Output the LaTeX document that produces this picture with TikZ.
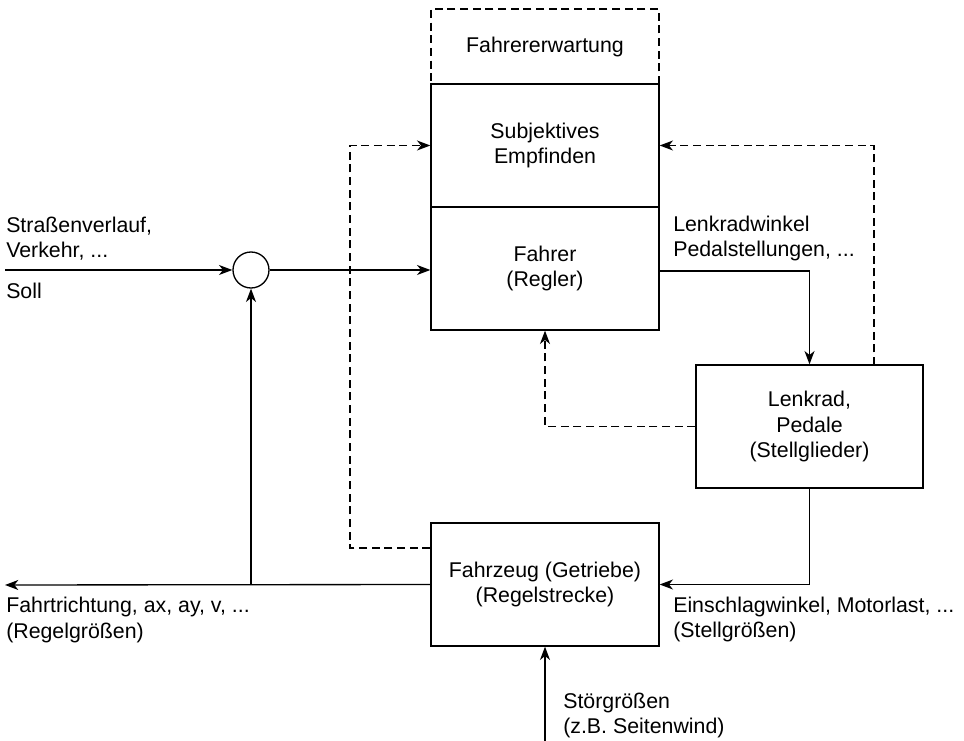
\documentclass[tikz,border=0pt]{standalone}
\usepackage{fontspec}
\setmainfont{Liberation Sans}
\usetikzlibrary{arrows.meta, positioning}

\begin{document}
\begin{tikzpicture}[x=0.75pt, y=-0.75pt,
    every node/.style={font=\fontsize{16}{18.8}\selectfont},
    block/.style={draw, line width=1pt, inner sep=0pt, minimum width=171pt, minimum height=92.25pt, align=center},
    lbl/.style={anchor=west, align=left, inner sep=0pt},
    arr/.style={line width=1pt, -{Stealth[length=10pt, width=7.5pt, inset=3pt]}},
    fb/.style={line width=1pt, dash pattern=on 6pt off 3.5pt},
    fbarr/.style={fb, -{Stealth[length=10pt, width=7.5pt, inset=3pt]}}]

    \useasboundingbox (0,0) rectangle (964,741);

    % Fahrer mit Erwartung und Empfinden
    \node[block, fb, minimum height=56.25pt] (erw) at (545,46.5) {Fahrererwartung};
    \node[block] (empf) at (545,145.5) {Subjektives\\Empfinden};
    \node[block] (fahrer) at (545,268.5) {Fahrer\\(Regler)};

    \node[draw, circle, line width=1pt, minimum size=27pt, inner sep=0pt] (sum) at (251,270) {};

    \node[block, minimum width=170.25pt] (lenkrad) at (809.5,426.5) {Lenkrad,\\Pedale\\(Stellglieder)};

    \node[block] (fzg) at (545,584.5) {Fahrzeug (Getriebe)\\(Regelstrecke)};

    % Beschriftungen
    \node[lbl] (strasse) at (6,238.5) {Straßenverlauf,\\Verkehr, ...};
    \node[lbl] (soll) at (6,291) {Soll};
    \node[lbl] (lenkw) at (673,238.5) {Lenkradwinkel\\Pedalstellungen, ...};
    \node[lbl] (regelgr) at (6,620) {Fahrtrichtung, ax, ay, v, ...\\(Regelgrößen)};
    \node[lbl] (stellgr) at (673,619.5) {Einschlagwinkel, Motorlast, ...\\(Stellgrößen)};
    \node[lbl] (stoer) at (563,715.5) {Störgrößen\\(z.B. Seitenwind)};

    % Hilfspunkte
    \coordinate (soll-in) at (5,270);
    \coordinate (ist-out) at (5,585);
    \coordinate (abzweig) at (251,585);
    \coordinate (stoer-in) at (545,741);
    \coordinate (fb-l) at (350,548);
    \coordinate (fb-r) at (874,365);

    % Regelkreis
    \draw[arr] (soll-in) -- (sum.west);
    \draw[arr] (sum.east) -- (sum.east -| fahrer.west);
    \draw[arr] (fahrer.east |- 0,271) -| (lenkrad.north);
    \draw[arr] (lenkrad.south) |- (fzg.east);
    \draw[arr] (fzg.west) -- (ist-out);
    \draw[arr] (abzweig) -- (sum.south);
    \draw[arr] (stoer-in) -- (fzg.south);

    % Rueckmeldungen an den Fahrer
    \draw[fbarr] (fb-l -| fzg.west) -- (fb-l) |- (empf.west);
    \draw[fbarr] (fb-r) |- (empf.east);
    \draw[fbarr] (lenkrad.west) -| (fahrer.south);

\end{tikzpicture}
\end{document}
